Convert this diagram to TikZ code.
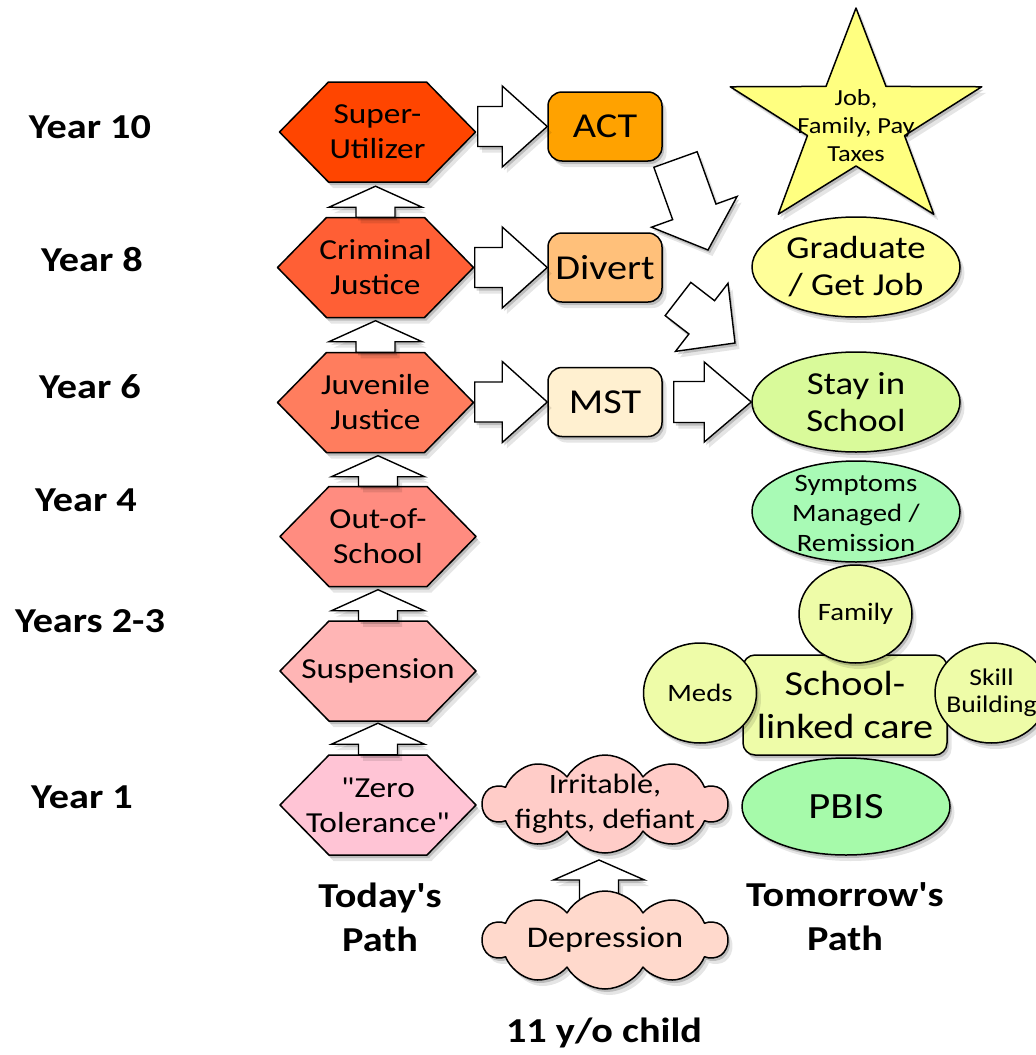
\documentclass[tikz,border=0pt]{standalone}
\usepackage{fontspec}
\setmainfont{Carlito}[FakeStretch=1.15, Ligatures=TeXOff]
\usetikzlibrary{calc,shapes.symbols,shapes.geometric,shadows}

\definecolor{csup}{HTML}{FF4500}
\definecolor{ccrim}{HTML}{FF5F35}
\definecolor{cjuv}{HTML}{FF7D5E}
\definecolor{coos}{HTML}{FF8C80}
\definecolor{csusp}{HTML}{FFB5B5}
\definecolor{czero}{HTML}{FFC4D5}
\definecolor{cact}{HTML}{FFA200}
\definecolor{cdiv}{HTML}{FFC07A}
\definecolor{cmst}{HTML}{FFF0D0}
\definecolor{cstar}{HTML}{FFFF80}
\definecolor{cgrad}{HTML}{FFFF99}
\definecolor{cstay}{HTML}{D9FA9A}
\definecolor{csym}{HTML}{A8FAB5}
\definecolor{cslc}{HTML}{EEFCA8}
\definecolor{cpbis}{HTML}{A6FAAA}
\definecolor{cirr}{HTML}{FFCCC8}
\definecolor{cdep}{HTML}{FFD9CC}

\tikzset{
  outl/.style={draw=black, line width=1.5pt, line join=round},
  shad/.style={drop shadow={shadow xshift=2pt,shadow yshift=-3pt,opacity=0.18,fill=black},
               drop shadow={shadow xshift=4.5pt,shadow yshift=-6pt,opacity=0.10,fill=black}},
  hexlabel/.style={minimum width=196, minimum height=100, inner sep=0pt, align=center,
                   font=\fontsize{29}{35}\selectfont},
  rbox/.style={outl, shad, rounded corners=14pt, minimum width=114, minimum height=69,
               inner sep=0pt, font=\fontsize{35}{40}\selectfont},
  ell/.style={ellipse, outl, shad, inner sep=0pt},
  txt/.style={inner sep=0pt, align=center},
  yearlab/.style={anchor=base, inner sep=0pt, font=\bfseries\fontsize{35}{40}\selectfont},
  pathlab/.style={inner sep=0pt, align=center, font=\bfseries\fontsize{35}{44}\selectfont},
  cloudbox/.style={cloud, cloud puffs=10, cloud puff arc=120, aspect=2.3, outl, shad,
                   minimum width=244, minimum height=98, inner sep=0pt},
  barrow/.style={draw=black, line width=1.4pt, line join=miter, fill=white, shad},
}

% block arrow from #1 (tail centre) to #2 (tip); #3 shaft half width, #4 head half width, #5 head length
\newcommand{\blockarrow}[5]{%
  \draw[barrow] let \p1=(#1), \p2=(#2),
      \n1={atan2(\y2-\y1,\x2-\x1)}, \n2={veclen(\x2-\x1,\y2-\y1)-#5} in
    ($(\p1)+(\n1+90:#3)$) -- ($(\p1)+(\n1:\n2)+(\n1+90:#3)$) --
    ($(\p1)+(\n1:\n2)+(\n1+90:#4)$) -- (\p2) --
    ($(\p1)+(\n1:\n2)+(\n1-90:#4)$) -- ($(\p1)+(\n1:\n2)+(\n1-90:#3)$) --
    ($(\p1)+(\n1-90:#3)$) -- cycle;}

% hexagon: name, x, y, fill, text
\newcommand{\hexshape}[5]{%
  \draw[outl,shad,fill=#4] (#2-98,#3) -- (#2-49,#3+50) -- (#2+49,#3+50) --
    (#2+98,#3) -- (#2+49,#3-50) -- (#2-49,#3-50) -- cycle;
  \node[hexlabel] (#1) at (#2,#3) {#5};}

\begin{document}
\begin{tikzpicture}[x=1pt,y=1pt]
\useasboundingbox (0,0) rectangle (1036,-1055);

% year labels
\node[yearlab] (y10) at (90,-138) {Year 10};
\node[yearlab] (y8) at (92,-271) {Year 8};
\node[yearlab] (y6) at (90,-398) {Year 6};
\node[yearlab] (y4) at (86,-511) {Year 4};
\node[yearlab] (y23) at (90,-632) {Years 2-3};
\node[yearlab] (y1) at (82,-808) {Year 1};

% today's path
\hexshape{sup}{377.5}{-132}{csup}{Super-\\Utilizer}
\hexshape{crim}{375.5}{-267.5}{ccrim}{Criminal\\Justice}
\hexshape{juv}{375.5}{-402.5}{cjuv}{Juvenile\\Justice}
\hexshape{oos}{378}{-536.5}{coos}{Out-of-\\School}
\hexshape{susp}{378}{-671}{csusp}{Suspension}
\hexshape{zero}{378}{-805}{czero}{"Zero\\Tolerance"}

% interventions
\node[rbox, fill=cact] (act) at (605,-126.5) {ACT};
\node[rbox, fill=cdiv] (div) at (605,-267.5) {Divert};
\node[rbox, fill=cmst] (mst) at (605,-402) {MST};

% star
\begin{scope}[shift={(856,-122)}, xscale=1.16]
  \draw[outl,shad,fill=cstar] (90:114) -- (126:44) -- (162:114) -- (198:44) --
    (234:114) -- (270:44) -- (306:114) -- (342:44) -- (18:114) -- (54:44) -- cycle;
\end{scope}
\node[txt, font=\fontsize{23}{28}\selectfont] (star) at (856,-126) {Job,\\Family, Pay\\Taxes};

% tomorrow's path
\node[ell, fill=cgrad, minimum width=208, minimum height=100] (grad) at (856,-267) {};
\node[txt, font=\fontsize{32}{37}\selectfont] (gradt) at (grad) {Graduate\\/ Get Job};
\node[ell, fill=cstay, minimum width=208, minimum height=100] (stay) at (856,-402) {};
\node[txt, font=\fontsize{32}{37}\selectfont] (stayt) at (stay) {Stay in\\School};
\node[ell, fill=csym, minimum width=208, minimum height=101] (sym) at (856,-511.5) {};
\node[txt, font=\fontsize{25}{30}\selectfont] (symt) at (856,-513) {Symptoms\\Managed /\\Remission};

\node[outl, shad, fill=cslc, rounded corners=12pt, minimum width=204, minimum height=100,
      inner sep=0pt, align=center, font=\fontsize{35}{43}\selectfont] (slc) at (845,-705) {School-\\linked care};
\node[ell, fill=cslc, minimum width=113, minimum height=98] (fam) at (855.5,-614) {};
\node[txt, font=\fontsize{25}{27}\selectfont] (famt) at (fam) {Family};
\node[ell, fill=cslc, minimum width=113, minimum height=100] (meds) at (700,-693) {};
\node[txt, font=\fontsize{25}{27}\selectfont] (medst) at (meds) {Meds};
\node[ell, fill=cslc, minimum width=113, minimum height=100] (skill) at (991.5,-693) {};
\node[txt, font=\fontsize{24}{27}\selectfont] (skillt) at (skill) {Skill\\Building};

\node[ell, fill=cpbis, minimum width=208, minimum height=97] (pbis) at (846,-806.5) {};
\node[txt, font=\fontsize{37}{40}\selectfont] (pbist) at (pbis) {PBIS};

% child
\coordinate (ca) at (599,-915);
\coordinate (cb) at (599,-860);
\blockarrow{ca}{cb}{19.5}{45.5}{20}
\node[cloudbox, fill=cirr] (irr) at (605,-804) {};
\node[txt, font=\fontsize{28}{35}\selectfont] (irrt) at (irr) {Irritable,\\fights, defiant};
\node[cloudbox, fill=cdep] (dep) at (605,-940) {};
\node[txt, font=\fontsize{30}{34}\selectfont] (dept) at (dep) {Depression};

% labels
\node[pathlab] (today) at (380,-917) {Today's\\Path};
\node[pathlab] (tomorrow) at (845,-917) {Tomorrow's\\Path};
\node[yearlab] (child) at (604,-1042) {11 y/o child};

% up arrows
\blockarrow{crim.north}{$(crim.north |- sup.south)+(0,-4)$}{19.5}{46.5}{21}
\blockarrow{juv.north}{$(juv.north |- crim.south)+(0,-3)$}{19.5}{46.5}{21}
\blockarrow{oos.north}{$(oos.north |- juv.south)+(0,-3)$}{19.5}{46.5}{21}
\blockarrow{susp.north}{$(susp.north |- oos.south)+(0,-3)$}{19.5}{46.5}{21}
\blockarrow{zero.north}{$(zero.north |- susp.south)+(0,-2)$}{19.5}{46.5}{21}

% right arrows
\blockarrow{$(sup.east |- act.west)+(2,0)$}{act.west}{20}{40.5}{45}
\blockarrow{$(crim.east |- div.west)+(1,0)$}{div.west}{20}{40.5}{45}
\blockarrow{$(juv.east |- mst.west)+(1,0)$}{mst.west}{20}{40.5}{45}
\blockarrow{$(mst.east)+(11,0)$}{stay.west}{20.5}{40}{47}

% diagonal arrows
\coordinate (d1a) at (675.5,-159.5);
\coordinate (d1b) at (708,-250);
\blockarrow{d1a}{d1b}{23}{45.5}{40.5}
\coordinate (d2a) at (678,-299);
\coordinate (d2b) at (735,-343);
\blockarrow{d2a}{d2b}{21}{43}{42}

\end{tikzpicture}
\end{document}
